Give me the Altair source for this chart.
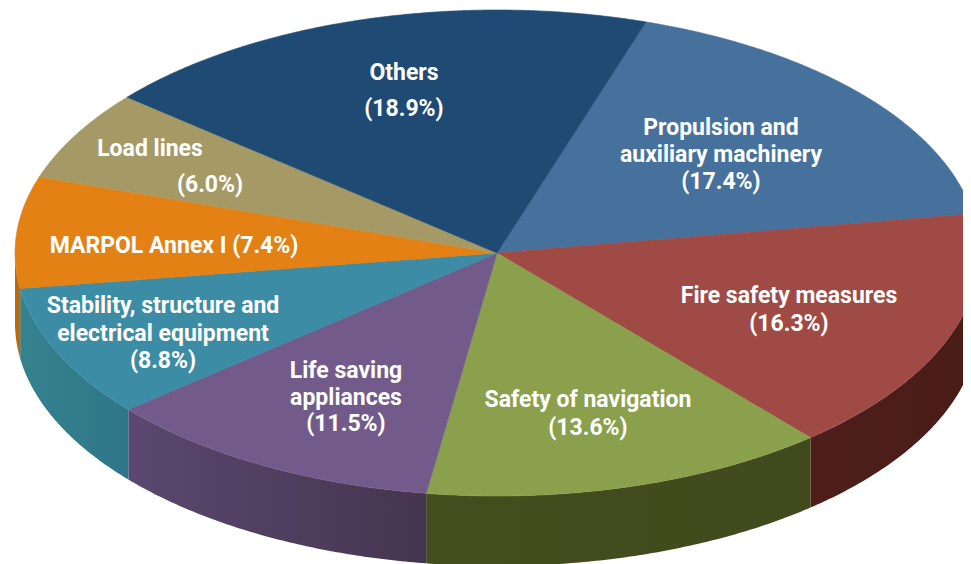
import numpy as np
import pandas as pd
import altair as alt

# Data
categories = ["Propulsion and auxiliary machinery", "Fire safety measures", "Safety of navigation",
              "Life saving appliances", "Stability, structure and electrical equipment",
              "MARPOL Annex I", "Load lines", "Others"]
shares = [17.4, 16.3, 13.6, 11.5, 8.8, 7.4, 6.0, 18.9]
top_colors = ["#46719D", "#A04A45", "#8AA04C", "#725B8A", "#3D8CA6", "#E38115", "#A59A66", "#1F4A73"]
side_left = ["#2E4E70", "#4E1F1A", "#434D1E", "#5A4870", "#35828F", "#B86A12", "#857C50", "#183A5C"]
side_right = ["#2E4E70", "#4A1C17", "#404A1C", "#45354F", "#2E7688", "#B86A12", "#857C50", "#183A5C"]

label_lines = [["Propulsion and", "auxiliary machinery", "(17.4%)"],
               ["Fire safety measures", "(16.3%)"],
               ["Safety of navigation", "(13.6%)"],
               ["Life saving", "appliances", "(11.5%)"],
               ["Stability, structure and", "electrical equipment", "(8.8%)"],
               ["MARPOL Annex I (7.4%)"],
               ["Load lines", "(6.0%)"],
               ["Others", "(18.9%)"]]
# Layout (page pixels of each text line's centre)
label_x = [[721, 721, 721], [789, 789], [588, 588], [346, 346, 346], [163, 163, 163], [174], [150, 210], [404, 404]]
label_y = [[127.5, 154.5, 182], [296, 324], [400, 428], [371, 398, 424], [306, 334, 361], [246], [149, 185], [72.5, 109]]

CX, CY, RX, RY, DEPTH, START = 497.0, 253.0, 482.0, 243.0, 70.0, 18.0


def ux(px):
    return (px - CX) / RX


def uy(py):
    return (CY - py) / RY


x_scale = alt.Scale(domain=[ux(8), ux(963)], nice=False, zero=False)
y_scale = alt.Scale(domain=[uy(564), uy(8)], nice=False, zero=False)
X = alt.X("x:Q", scale=x_scale, axis=None)
Y = alt.Y("y:Q", scale=y_scale, axis=None)

cum = START + np.concatenate([[0], np.cumsum(shares)]) / sum(shares) * 360
sides, tops = [], []
for i in range(len(shares)):
    a0, a1 = cum[i], cum[i + 1]
    theta = np.radians(np.linspace(a0, a1, int(a1 - a0) * 2 + 2))
    # top face polygon
    tx = np.concatenate([[0], np.sin(theta), [0]])
    ty = np.concatenate([[0], np.cos(theta), [0]])
    top = pd.DataFrame({"x": tx, "y": ty, "o": np.arange(len(tx))})
    tops.append(alt.Chart(top).mark_line(fill=top_colors[i], stroke=top_colors[i], strokeWidth=0.6,
                                         strokeJoin="round").encode(x=X, y=Y, order="o:Q"))
    # visible wall: lower half of the rim only
    lo, hi = max(a0, 90.0), min(a1, 270.0)
    if hi > lo:
        t = np.radians(np.linspace(lo, hi, int(hi - lo) * 2 + 2))
        wall = pd.DataFrame({"x": np.sin(t), "y": np.cos(t), "y2": np.cos(t) - DEPTH / RY})
        grad = alt.LinearGradient(gradient="linear", x1=0, x2=1, y1=0, y2=0,
                                  stops=[alt.GradientStop(offset=0, color=side_left[i]),
                                         alt.GradientStop(offset=1, color=side_right[i])])
        sides.append(alt.Chart(wall).mark_area(color=grad).encode(x=X, y=Y, y2="y2:Q"))

rows = []
for lines, xs, ys in zip(label_lines, label_x, label_y):
    for t, px, py in zip(lines, xs, ys):
        rows.append({"text": t, "x": ux(px), "y": uy(py)})
labels = alt.Chart(pd.DataFrame(rows)).mark_text(
    font="Roboto", fontWeight="bold", fontSize=23, color="white",
    align="center", baseline="middle").encode(x=X, y=Y, text="text:N")

chart = alt.layer(*sides, *tops, labels).properties(
    width=955, height=556, padding=0, background="white",
    autosize=alt.AutoSizeParams(type="none")
).configure_view(strokeWidth=0, stroke=None)
chart.save("out.html", embed_options={"renderer": "svg", "actions": False})
